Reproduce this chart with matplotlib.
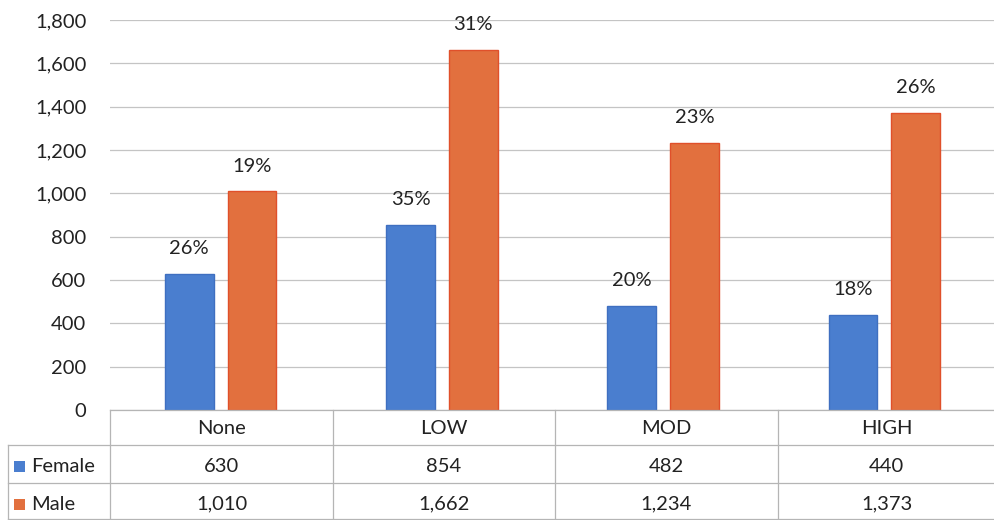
import matplotlib
matplotlib.use("Agg")
import matplotlib.pyplot as plt
from matplotlib.patches import Rectangle
from matplotlib.lines import Line2D
import numpy as np

categories = ["None", "LOW", "MOD", "HIGH"]
female = [630, 854, 482, 440]
male = [1010, 1662, 1234, 1373]
female_pct = ["26%", "35%", "20%", "18%"]
male_pct = ["19%", "31%", "23%", "26%"]
series_names = ["Female", "Male"]
yticks = [0, 200, 400, 600, 800, 1000, 1200, 1400, 1600, 1800]

BLUE = "#4a7ecf"
BLUE_EDGE = "#3f6fc0"
ORANGE = "#e2703e"
ORANGE_EDGE = "#e0502a"
TEXT = "#222222"
GRID = "#c4c4c4"
FONT = ["Lato", "DejaVu Sans"]
FS = 14.5

W, H = 995, 520
fig = plt.figure(figsize=(W / 100, H / 100), dpi=100)
plt.rcParams["font.family"] = FONT

def fx(px):
    return px / W

def fy(py):
    return 1 - py / H

left_px, right_px, bottom_px, top_px = 110, 995, 410, 20
ax = fig.add_axes([fx(left_px), fy(bottom_px), fx(right_px) - fx(left_px), fy(top_px) - fy(bottom_px)])
ax.set_xlim(0, 4)
ax.set_ylim(0, 1800)

x = np.arange(len(categories)) + 0.5
bw = 0.22
off = 0.142
ax.bar(x - off, female, bw, color=BLUE, edgecolor=BLUE_EDGE, linewidth=1, zorder=3)
ax.bar(x + off, male, bw, color=ORANGE, edgecolor=ORANGE_EDGE, linewidth=1, zorder=3)

for xi, v, p in zip(x - off, female, female_pct):
    ax.annotate(p, (xi, v), xytext=(0, 18), textcoords="offset points",
                ha="center", va="center", fontsize=FS, color=TEXT)
for xi, v, p in zip(x + off, male, male_pct):
    ax.annotate(p, (xi, v), xytext=(0, 18), textcoords="offset points",
                ha="center", va="center", fontsize=FS, color=TEXT)

ax.set_yticks(yticks)
ax.set_yticklabels([f"{t:,}" for t in yticks], fontsize=FS, color=TEXT)
ax.tick_params(axis="y", length=0, pad=17)
ax.set_xticks([])
ax.grid(axis="y", color=GRID, linewidth=0.9, zorder=0)
for s in ax.spines.values():
    s.set_visible(False)

# Data table under the plot
line_kw = dict(color="#b5b5b5", linewidth=0.9, transform=fig.transFigure)
col_edges = [110, 333, 555, 778, 995]
row_edges = [410, 445, 483, 519]
fig.add_artist(Line2D([fx(110), fx(995)], [fy(410), fy(410)], **line_kw))
for ry in row_edges[1:]:
    fig.add_artist(Line2D([fx(8), fx(995)], [fy(ry), fy(ry)], **line_kw))
for cx in col_edges:
    fig.add_artist(Line2D([fx(cx), fx(cx)], [fy(410), fy(519)], **line_kw))
fig.add_artist(Line2D([fx(8), fx(8)], [fy(445), fy(519)], **line_kw))

centers = [(col_edges[i] + col_edges[i + 1]) / 2 for i in range(4)]
for cx, c in zip(centers, categories):
    fig.text(fx(cx), fy(429), c, ha="center", va="center", fontsize=FS, color=TEXT)

row_y = [466, 504]
colors = [BLUE, ORANGE]
for ry, name, vals, col in zip(row_y, series_names, [female, male], colors):
    fig.add_artist(Rectangle((fx(14), fy(ry + 5.5)), fx(11), fy(0) - fy(11),
                             facecolor=col, edgecolor="none", transform=fig.transFigure))
    fig.text(fx(31), fy(ry), name, ha="left", va="center", fontsize=FS, color=TEXT)
    for cx, v in zip(centers, vals):
        fig.text(fx(cx), fy(ry), f"{v:,}", ha="center", va="center", fontsize=FS, color=TEXT)

fig.savefig("out.png", dpi=100)
